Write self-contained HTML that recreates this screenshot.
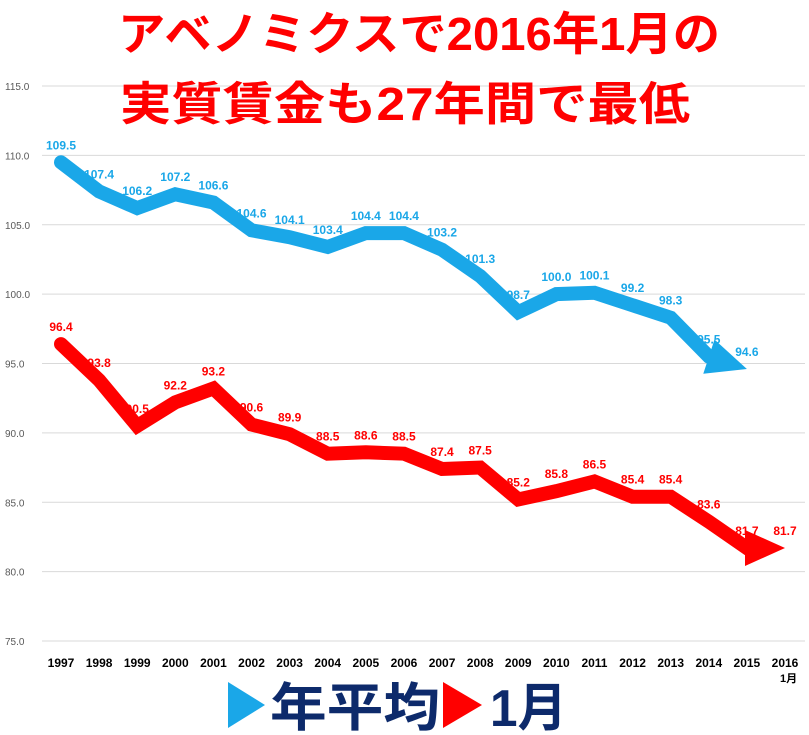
<!DOCTYPE html>
<html><head><meta charset="utf-8"><style>
body{margin:0;background:#fff;}
svg{display:block;font-family:"Liberation Sans","Noto Sans CJK JP",sans-serif;}
</style></head><body>
<svg id="chart" width="809" height="735" viewBox="0 0 809 735">
<g id="grid"></g><g id="series"></g><g id="labels"></g>
<text x="118" y="50" textLength="602" lengthAdjust="spacingAndGlyphs" font-size="46" font-weight="bold" fill="#ff0000">アベノミクスで2016年1月の</text>
<text x="120" y="120" textLength="570" lengthAdjust="spacingAndGlyphs" font-size="46" font-weight="bold" fill="#ff0000">実質賃金も27年間で最低</text>
<g>
<polygon points="228,682 265,705 228,728" fill="#1aa7e8"/>
<text x="270" y="726" textLength="170" lengthAdjust="spacingAndGlyphs" font-size="52" font-weight="bold" fill="#0d2a6b">年平均</text>
<polygon points="443,682 482,705 443,728" fill="#ff0000"/>
<text x="490" y="726" textLength="77" lengthAdjust="spacingAndGlyphs" font-size="52" font-weight="bold" fill="#0d2a6b">1月</text>
</g>
<text x="780" y="682" font-size="11" font-weight="bold" fill="#000">1月</text>
</svg>
<script>
const years=["1997","1998","1999","2000","2001","2002","2003","2004","2005","2006","2007","2008","2009","2010","2011","2012","2013","2014","2015","2016"];
const annual=[109.5,107.4,106.2,107.2,106.6,104.6,104.1,103.4,104.4,104.4,103.2,101.3,98.7,100.0,100.1,99.2,98.3,95.5,94.6];
const january=[96.4,93.8,90.5,92.2,93.2,90.6,89.9,88.5,88.6,88.5,87.4,87.5,85.2,85.8,86.5,85.4,85.4,83.6,81.7,81.7];
const yTicks=[75,80,85,90,95,100,105,110,115];
const NS="http://www.w3.org/2000/svg";
const X=i=>61+i*(724/19);
const Y=v=>86+(115-v)*13.875;
function mk(tag,attrs,parent){const e=document.createElementNS(NS,tag);for(const k in attrs)e.setAttribute(k,attrs[k]);parent.appendChild(e);return e;}
const grid=document.getElementById('grid'),ser=document.getElementById('series'),lab=document.getElementById('labels');
yTicks.forEach(t=>{
 const l=mk('line',{x1:42,x2:805,y1:Y(t),y2:Y(t),stroke:'#d9d9d9','stroke-width':1},grid);
 
 
 const tx=mk('text',{x:5,y:Y(t)+4,'font-size':10,fill:'#595959'},grid);
 
 
 tx.textContent=t.toFixed(1);
});
years.forEach((y,i)=>{
 const tx=mk('text',{x:X(i),y:667,'font-size':12,'font-weight':'bold','text-anchor':'middle',fill:'#000'},grid);
 
 
 tx.textContent=y;
});
function drawSeries(vals,color,name){
 const pts=vals.map((v,i)=>[X(i),Y(v)]);
 const n=pts.length;const [x1,y1]=pts[n-2],[x2,y2]=pts[n-1];
 const dx=x2-x1,dy=y2-y1,L=Math.hypot(dx,dy),ux=dx/L,uy=dy/L;
 const hl=40,hw=18;
 const bx=x2-ux*hl,by=y2-uy*hl;
 const lp=pts.slice(0,n-1).concat([[bx+ux*2,by+uy*2]]);
 const pl=mk('polyline',{points:lp.map(p=>p.join(',')).join(' '),fill:'none',stroke:color,'stroke-width':14,'stroke-linejoin':'miter','stroke-linecap':'round'},ser);
 
 
 const hd=mk('polygon',{points:`${x2},${y2} ${bx-uy*hw},${by+ux*hw} ${bx+uy*hw},${by-ux*hw}`,fill:color},ser);
 
 
 vals.forEach((v,i)=>{
  const tx=mk('text',{x:X(i),y:Y(v)-13,'font-size':12,'font-weight':'bold','text-anchor':'middle',fill:color},lab);
  
  
  tx.textContent=v.toFixed(1);
 });
}
drawSeries(annual,'#1aa7e8','annual');
drawSeries(january,'#ff0000','january');
</script>
</body></html>
